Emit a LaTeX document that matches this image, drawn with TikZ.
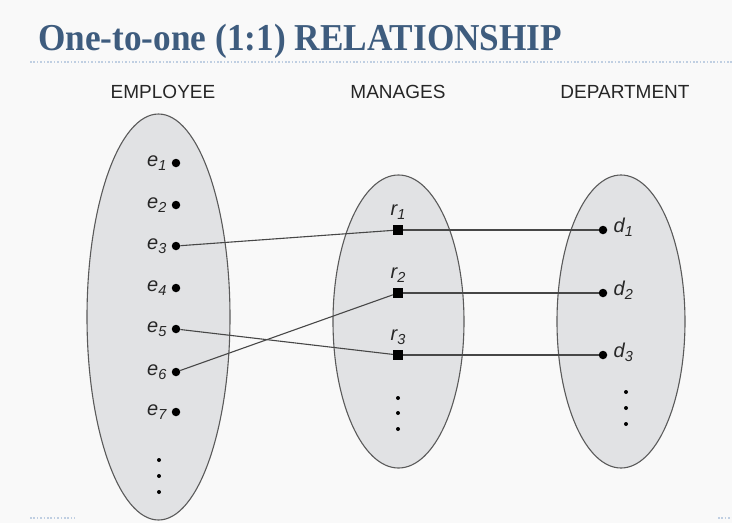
\documentclass[tikz,border=0pt]{standalone}
\usepackage{fontspec}
\usepackage{graphicx}
\setmainfont{Liberation Serif}
\setsansfont{Liberation Sans}
\newfontfamily\titlefont{Liberation Serif}
\usetikzlibrary{shapes.geometric}
\definecolor{bgcol}{HTML}{F9F9F9}
\definecolor{titleblue}{HTML}{3E5C7E}
\definecolor{ruleblue}{HTML}{C0CFE2}
\definecolor{setgray}{HTML}{E1E2E4}
\definecolor{setline}{HTML}{5A5A5A}
\newcommand\lsub[1]{\raisebox{-4.5pt}{\fontsize{14.5}{14.5}\selectfont #1}}
\begin{document}
\begin{tikzpicture}[x=1pt,y=-1pt,
  setshape/.style={ellipse, draw=setline, fill=setgray, line width=1.1pt, inner sep=0pt},
  edot/.style={circle, fill=black, inner sep=0pt, minimum size=8.5pt},
  rsq/.style={rectangle, fill=black, inner sep=0pt, minimum size=10pt},
  link/.style={draw=black!72, line width=1.1pt},
  hdr/.style={font=\sffamily\fontsize{19}{19}\selectfont, anchor=base, inner sep=0pt, text=black!85},
  lbl/.style={font=\sffamily\itshape\fontsize{20}{20}\selectfont, inner sep=0pt, text=black!85},
  rule/.style={draw=ruleblue, line width=1.3pt, dash pattern=on 1.6pt off 1.8pt},
  vdot/.style={fill=black}
]
\fill[bgcol] (0,0) rectangle (732,523);
\useasboundingbox (0,0) rectangle (732,523);

% title
\node[anchor=base west, inner sep=0pt, text=titleblue] (title) at (38,50)
  {\resizebox{524pt}{\height}{\titlefont\bfseries\fontsize{38}{38}\selectfont One-to-one (1:1) RELATIONSHIP}};
\draw[rule] (30,62) -- (732,62);
\draw[rule] (30,518) -- (75,518);
\draw[rule] (718,518) -- (732,518);

% headers
\node[hdr] (hE) at (163,98) {EMPLOYEE};
\node[hdr] (hM) at (398,98) {MANAGES};
\node[hdr] (hD) at (625,98) {DEPARTMENT};

% sets
\node[setshape, minimum width=143pt, minimum height=406pt] (SE) at (158.5,317) {};
\node[setshape, minimum width=131pt, minimum height=293pt] (SM) at (398.5,321.5) {};
\node[setshape, minimum width=128pt, minimum height=293pt] (SD) at (621,321.5) {};

% employees
\foreach \i/\y in {1/163,2/205,3/246,4/288,5/329,6/372,7/412}{
  \node[edot] (e\i) at (176,\y) {};
  \node[lbl, anchor=base east] (le\i) at ([xshift=-5pt,yshift=-3pt]e\i.west) {e\lsub{\i}};
}
\foreach \y in {460,476,492} \fill[vdot] (159,\y) circle[radius=2pt];

% relationships
\foreach \i/\y in {1/230,2/293,3/355}{
  \node[rsq] (r\i) at (398,\y) {};
  \node[lbl, anchor=base] (lr\i) at ([yshift=15pt]r\i.center) {r\lsub{\i}};
}
\foreach \y in {398,413,429} \fill[vdot] (398,\y) circle[radius=2pt];

% departments
\foreach \i/\y in {1/230,2/293,3/355}{
  \node[edot] (d\i) at (603,\y) {};
  \node[lbl, anchor=base west] (ld\i) at ([xshift=6pt,yshift=-2pt]d\i.east) {d\lsub{\i}};
}
\foreach \y in {392,408,424} \fill[vdot] (626,\y) circle[radius=2pt];

% links
\draw[link] (e3) -- (r1);
\draw[link] (e5) -- (r3);
\draw[link] (e6) -- (r2);
\draw[link] (r1) -- (d1);
\draw[link] (r2) -- (d2);
\draw[link] (r3) -- (d3);
\end{tikzpicture}
\end{document}
